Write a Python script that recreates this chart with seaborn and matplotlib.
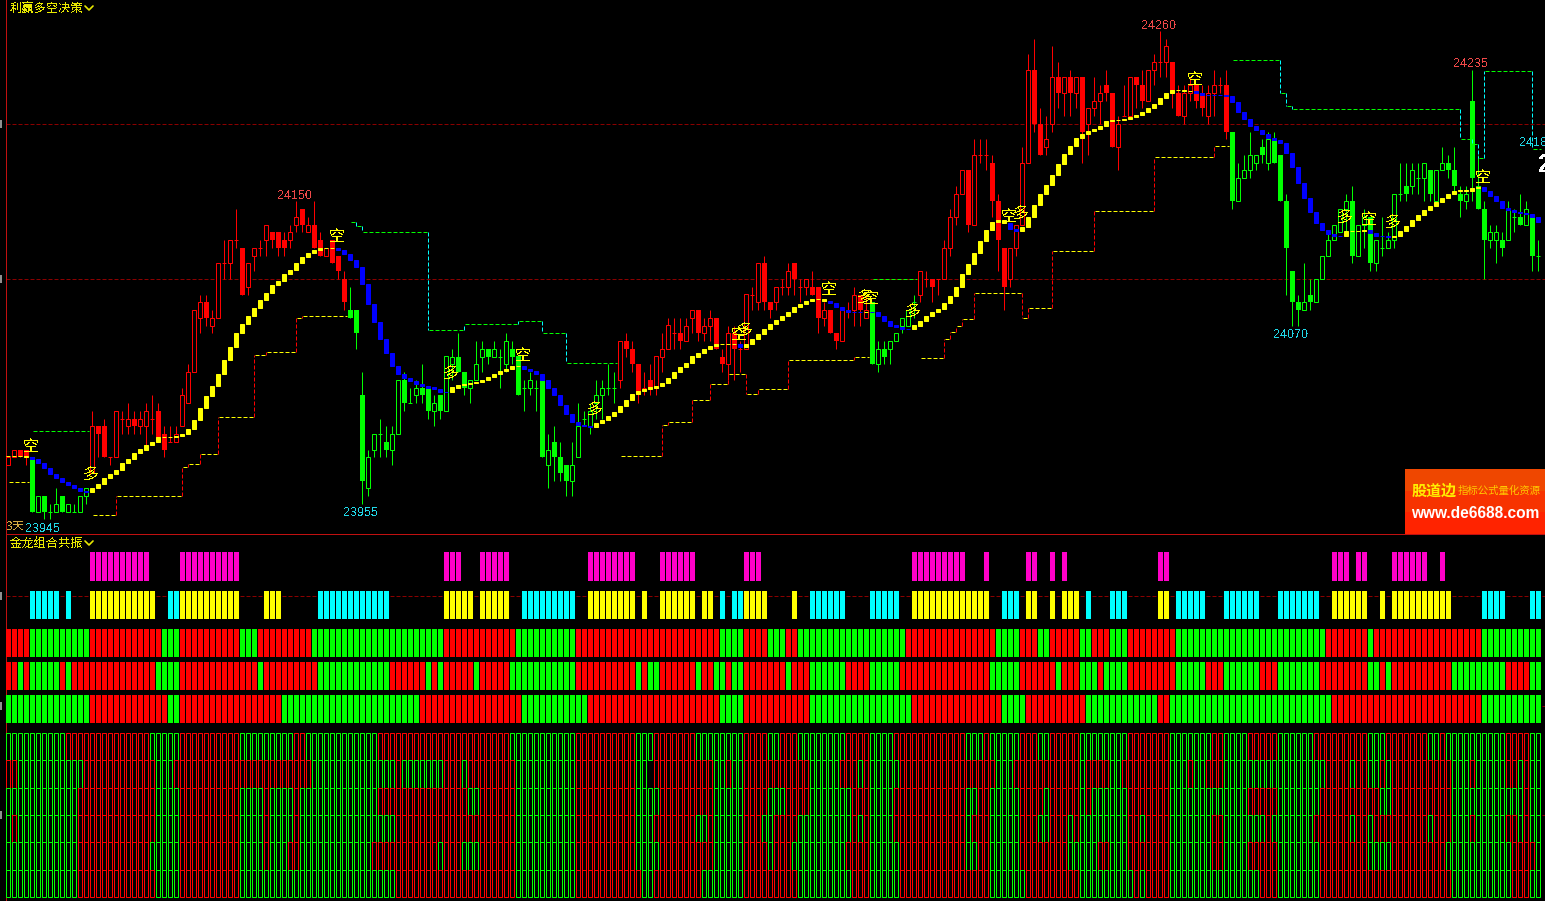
"""Two stacked stock-software panels: candles with trend ribbon, signal sticks below."""

import numpy as np
import matplotlib
matplotlib.use("Agg")
import matplotlib.pyplot as plt
from matplotlib.lines import Line2D
from matplotlib.transforms import Affine2D
import seaborn as sns

opens = [
    23980, 23985, 23990, 23990, 23985, 23950, 23960, 23950, 23950, 23960,
    23950, 23950, 23950, 23960, 23975, 24005, 24005, 23985, 23985, 24010,
    24005, 24010, 24005, 24005, 24010, 24015, 24000, 23995, 23995, 24005,
    24020, 24040, 24075, 24085, 24070, 24075, 24110, 24110, 24125, 24120,
    24095, 24115, 24120, 24125, 24130, 24130, 24125, 24125, 24135, 24145,
    24130, 24135, 24125, 24115, 24125, 24115, 24100, 24080, 24080, 24025,
    23965, 23990, 24000, 23995, 23990, 24000, 24035, 24020, 24025, 24030,
    24030, 24015, 24025, 24015, 24045, 24050, 24040, 24030, 24035, 24050,
    24055, 24050, 24050, 24045, 24055, 24050, 24030, 24030, 24030, 24035,
    23980, 23995, 23985, 23980, 23970, 23985, 24010, 24005, 24020, 24025,
    24030, 24030, 24035, 24060, 24055, 24045, 24030, 24035, 24030, 24050,
    24055, 24065, 24065, 24060, 24075, 24080, 24065, 24070, 24075, 24050,
    24045, 24065, 24055, 24055, 24090, 24085, 24110, 24085, 24085, 24095,
    24095, 24110, 24095, 24095, 24095, 24095, 24075, 24080, 24065, 24060,
    24080, 24080, 24090, 24075, 24085, 24045, 24055, 24055, 24060, 24070,
    24070, 24085, 24090, 24100, 24100, 24100, 24100, 24120, 24140, 24155,
    24170, 24135, 24180, 24180, 24175, 24150, 24120, 24100, 24120, 24135,
    24175, 24235, 24200, 24185, 24200, 24230, 24220, 24230, 24220, 24230,
    24200, 24210, 24215, 24225, 24220, 24185, 24205, 24205, 24230, 24225,
    24215, 24235, 24240, 24240, 24240, 24220, 24205, 24220, 24225, 24220,
    24205, 24220, 24225, 24225, 24195, 24150, 24165, 24170, 24175, 24185,
    24175, 24190, 24180, 24150, 24105, 24085, 24080, 24090, 24085, 24100,
    24115, 24125, 24130, 24145, 24150, 24115, 24135, 24140, 24110, 24120,
    24120, 24125, 24155, 24160, 24160, 24165, 24165, 24170, 24150, 24170,
    24175, 24170, 24155, 24150, 24215, 24160, 24145, 24125, 24125, 24125,
    24125, 24140, 24140, 24135, 24140, 24115,
]
closes = [
    23985, 23990, 23985, 23985, 23950, 23960, 23950, 23950, 23955, 23950,
    23955, 23950, 23960, 23965, 24005, 24000, 23985, 23985, 24015, 24010,
    24010, 24005, 24010, 24015, 24010, 23995, 23990, 23995, 24000, 24025,
    24040, 24080, 24085, 24075, 24075, 24110, 24110, 24125, 24125, 24090,
    24110, 24120, 24120, 24135, 24125, 24120, 24120, 24130, 24140, 24135,
    24135, 24120, 24115, 24120, 24110, 24105, 24085, 24075, 24065, 23970,
    23985, 24000, 24000, 23990, 24000, 24035, 24020, 24020, 24030, 24025,
    24015, 24020, 24015, 24050, 24050, 24040, 24030, 24035, 24045, 24055,
    24050, 24055, 24050, 24060, 24050, 24025, 24030, 24035, 24030, 23985,
    23990, 23985, 23975, 23970, 23980, 24005, 24010, 24015, 24025, 24030,
    24030, 24030, 24060, 24055, 24045, 24025, 24030, 24030, 24050, 24055,
    24070, 24065, 24060, 24070, 24080, 24065, 24070, 24075, 24055, 24045,
    24065, 24055, 24055, 24090, 24090, 24110, 24085, 24080, 24095, 24095,
    24105, 24100, 24095, 24100, 24090, 24075, 24080, 24065, 24060, 24080,
    24080, 24090, 24080, 24080, 24045, 24055, 24050, 24060, 24065, 24075,
    24080, 24085, 24105, 24100, 24095, 24100, 24120, 24140, 24155, 24170,
    24135, 24180, 24180, 24180, 24150, 24125, 24095, 24120, 24135, 24175,
    24235, 24200, 24180, 24190, 24230, 24220, 24230, 24220, 24230, 24195,
    24210, 24215, 24220, 24220, 24185, 24200, 24205, 24230, 24225, 24215,
    24235, 24240, 24240, 24250, 24220, 24205, 24220, 24225, 24215, 24210,
    24220, 24225, 24225, 24195, 24150, 24165, 24170, 24180, 24180, 24180,
    24190, 24175, 24150, 24120, 24085, 24080, 24085, 24085, 24100, 24115,
    24125, 24135, 24145, 24150, 24115, 24135, 24140, 24110, 24125, 24120,
    24125, 24155, 24155, 24155, 24170, 24165, 24175, 24155, 24170, 24175,
    24170, 24160, 24150, 24155, 24165, 24145, 24125, 24130, 24130, 24120,
    24145, 24140, 24135, 24145, 24115, 24115,
]
highs = [
    23985, 23990, 23990, 23990, 23985, 23960, 23960, 23955, 23965, 23960,
    23955, 23955, 23960, 23965, 24015, 24005, 24010, 23985, 24015, 24015,
    24020, 24015, 24015, 24020, 24025, 24020, 24005, 24005, 24005, 24030,
    24045, 24080, 24090, 24090, 24080, 24110, 24125, 24125, 24145, 24120,
    24110, 24120, 24125, 24135, 24130, 24130, 24130, 24135, 24150, 24145,
    24140, 24150, 24130, 24120, 24125, 24115, 24105, 24095, 24080, 24040,
    23990, 24000, 24010, 24005, 24005, 24035, 24040, 24030, 24035, 24045,
    24030, 24025, 24025, 24050, 24055, 24065, 24040, 24035, 24060, 24060,
    24055, 24060, 24055, 24065, 24060, 24050, 24035, 24040, 24035, 24035,
    24000, 24005, 23995, 23980, 23995, 24020, 24015, 24020, 24035, 24035,
    24045, 24040, 24060, 24065, 24060, 24045, 24040, 24045, 24050, 24065,
    24075, 24075, 24075, 24075, 24080, 24080, 24075, 24080, 24075, 24055,
    24070, 24070, 24060, 24090, 24095, 24110, 24115, 24085, 24095, 24100,
    24110, 24110, 24100, 24100, 24105, 24095, 24085, 24080, 24065, 24080,
    24085, 24095, 24090, 24090, 24085, 24060, 24060, 24060, 24065, 24075,
    24080, 24090, 24105, 24105, 24100, 24100, 24125, 24145, 24160, 24170,
    24170, 24190, 24190, 24190, 24180, 24155, 24120, 24120, 24135, 24185,
    24245, 24255, 24210, 24205, 24250, 24240, 24230, 24235, 24230, 24230,
    24210, 24230, 24225, 24235, 24220, 24205, 24225, 24230, 24230, 24235,
    24235, 24245, 24260, 24255, 24240, 24225, 24225, 24230, 24225, 24225,
    24225, 24235, 24230, 24235, 24195, 24175, 24180, 24195, 24180, 24190,
    24195, 24195, 24180, 24155, 24105, 24090, 24110, 24100, 24100, 24115,
    24130, 24135, 24145, 24155, 24160, 24135, 24145, 24140, 24125, 24140,
    24130, 24155, 24175, 24175, 24175, 24175, 24175, 24170, 24170, 24185,
    24180, 24185, 24160, 24160, 24235, 24180, 24150, 24135, 24135, 24130,
    24150, 24145, 24155, 24150, 24140, 24125,
]
lows = [
    23980, 23985, 23985, 23980, 23950, 23950, 23945, 23945, 23950, 23950,
    23950, 23950, 23950, 23955, 23975, 23985, 23985, 23980, 23985, 24000,
    24000, 24000, 24000, 23990, 24000, 23995, 23985, 23995, 23995, 24005,
    24020, 24040, 24065, 24070, 24065, 24075, 24100, 24100, 24120, 24090,
    24090, 24105, 24115, 24115, 24120, 24115, 24115, 24120, 24130, 24130,
    24130, 24120, 24115, 24115, 24110, 24100, 24080, 24075, 24055, 23955,
    23960, 23985, 23985, 23985, 23980, 24000, 24015, 24020, 24020, 24020,
    24010, 24005, 24010, 24015, 24035, 24040, 24025, 24020, 24035, 24040,
    24045, 24050, 24030, 24040, 24045, 24025, 24015, 24025, 24015, 23985,
    23965, 23970, 23970, 23960, 23960, 23985, 24005, 24000, 24010, 24010,
    24025, 24020, 24030, 24050, 24040, 24020, 24025, 24025, 24025, 24040,
    24055, 24055, 24055, 24060, 24065, 24060, 24060, 24060, 24055, 24040,
    24035, 24035, 24040, 24055, 24080, 24080, 24080, 24075, 24080, 24090,
    24090, 24090, 24085, 24090, 24090, 24065, 24070, 24065, 24055, 24060,
    24075, 24070, 24070, 24075, 24045, 24040, 24045, 24045, 24060, 24065,
    24070, 24075, 24085, 24095, 24085, 24090, 24100, 24115, 24135, 24155,
    24130, 24135, 24175, 24170, 24140, 24105, 24080, 24095, 24115, 24135,
    24175, 24195, 24180, 24180, 24195, 24210, 24205, 24205, 24210, 24175,
    24180, 24205, 24200, 24215, 24185, 24170, 24205, 24205, 24210, 24210,
    24215, 24225, 24230, 24230, 24210, 24205, 24200, 24215, 24210, 24205,
    24200, 24205, 24220, 24190, 24145, 24150, 24165, 24165, 24170, 24175,
    24170, 24175, 24150, 24090, 24070, 24070, 24080, 24080, 24085, 24100,
    24115, 24125, 24130, 24130, 24110, 24115, 24120, 24105, 24105, 24115,
    24120, 24120, 24150, 24150, 24155, 24155, 24150, 24150, 24150, 24170,
    24165, 24155, 24140, 24145, 24150, 24145, 24100, 24120, 24110, 24115,
    24125, 24130, 24135, 24135, 24105, 24105,
]
trend_line = [
    23985.5, 23985.7, 23986, 23985, 23983.7, 23981, 23978, 23974, 23971.7, 23969,
    23967, 23965, 23963, 23962.7, 23965, 23968, 23971.7, 23974, 23977, 23981,
    23984, 23988, 23990, 23993, 23995, 23998, 23998, 23998, 23999, 24000,
    24003, 24009, 24017, 24024.6, 24031, 24039, 24048, 24056, 24065, 24071,
    24076, 24081, 24086.5, 24091, 24096, 24099, 24103, 24106, 24110, 24114,
    24117, 24119, 24120, 24120, 24120, 24119, 24116, 24112, 24108, 24097,
    24084, 24072, 24061, 24052, 24044, 24039, 24036, 24034, 24032, 24031,
    24030, 24029, 24027, 24027, 24030, 24031.6, 24032, 24033, 24033.5, 24035,
    24037, 24039, 24040.6, 24042, 24044, 24044, 24042, 24040.6, 24039, 24035,
    24030, 24025, 24019, 24013, 24008, 24006, 24005, 24004.7, 24007, 24009,
    24011.6, 24014, 24018, 24022, 24026, 24028, 24029, 24030, 24031, 24033,
    24036, 24040, 24043, 24046, 24050, 24052, 24055, 24057, 24058, 24058,
    24058, 24058, 24056, 24058, 24061, 24064.5, 24068, 24071, 24073.5, 24076,
    24079, 24082, 24084, 24086, 24087, 24087, 24086, 24084.5, 24082, 24080,
    24079, 24079, 24079, 24079, 24078.7, 24076, 24073, 24070, 24069, 24068,
    24068, 24070, 24073, 24076, 24078.7, 24080.6, 24084.5, 24089, 24095, 24103,
    24109.6, 24117, 24124.5, 24131.5, 24136.7, 24138, 24136, 24132, 24131, 24133.5,
    24140, 24148, 24155, 24160.6, 24167, 24174, 24180.6, 24186, 24191, 24193.5,
    24195.4, 24197, 24199, 24202, 24202.5, 24202.5, 24203, 24204.4, 24206, 24208,
    24210, 24213, 24217, 24220, 24222, 24222, 24221.4, 24221, 24220, 24219,
    24218.6, 24219, 24219, 24218, 24214, 24208, 24203, 24199, 24196, 24193.5,
    24191, 24189.6, 24187.5, 24181, 24172, 24162, 24152, 24143, 24136, 24131.5,
    24129, 24128, 24128, 24131, 24131, 24131, 24131.5, 24129.6, 24128, 24127.7,
    24127, 24128, 24131, 24134, 24138, 24141, 24144.5, 24147, 24149.6, 24152,
    24155, 24157, 24157.6, 24157, 24158.6, 24159.5, 24157, 24153.5, 24150, 24146,
    24144.5, 24143, 24142.5, 24142, 24140, 24137,
]

candle_runs = "R4 G10 R43 G45 R42 G8 R52 G52"
ribbon_runs = "Y4 B10 Y41 B19 Y12 B12 Y24 B1 Y14 B6 Y1 B7 Y16 B2 Y29 B25 Y4 B4 Y15 B10"

stop_counts = [4, 10, 4, 11, 1, 2, 3, 6, 2, 5, 1, 8, 1, 1, 11, 6, 9, 4, 4, 9,
               7, 1, 4, 3, 3, 3, 2, 5, 11, 3, 8, 4, 1, 1, 1, 2, 8, 1, 4, 7,
               10, 10, 3, 8, 1, 1, 28, 2, 1, 1, 8, 2]
stop_levels = [23969, 24002, 23948, 23960, 23979, 23980.5, 23987, 24011, 24051, 24053,
               24075, 24076, 24137, 24134, 24130, 24067, 24071, 24073, 24065, 24046,
               23985.6, 24006, 24007.5, 24022, 24032, 24038.5, 24026, 24029, 24048, 24050,
               24100, 24049, 24061, 24066, 24069.6, 24074, 24091, 24075, 24081, 24118,
               24143.6, 24179, 24186, 24241.6, 24220, 24211.5, 24209.4, 24190, 24187, 24178,
               24234, 24184]

extreme_bars = [6, 48, 59, 192, 214, 244]
extreme_vals = [23945, 24150, 23955, 24260, 24070, 24235]
extreme_side = ["low", "high", "low", "high", "low", "high"]

magenta_bars = [(14, 23), (29, 38), (73, 75), (79, 83), (97, 104), (109, 114), (123, 125),
                (151, 159), (163, 163), (170, 171), (174, 174), (176, 176), (192, 193),
                (221, 223), (225, 226), (231, 236), (239, 239)]
yellow_bars = [(14, 24), (29, 38), (43, 45), (73, 77), (79, 83), (97, 104), (106, 106),
               (109, 114), (116, 117), (123, 126), (131, 131), (151, 163), (170, 171),
               (174, 174), (176, 178), (192, 193), (221, 226), (229, 229), (231, 240)]
cyan_bars = [(4, 8), (10, 10), (27, 28), (52, 63), (86, 94), (119, 119), (121, 122),
             (134, 139), (144, 148), (166, 168), (180, 180), (184, 186), (195, 199),
             (203, 208), (212, 218), (246, 249), (254, 255)]

band_top = ("R4 G10 R12 G3 R10 G3 R9 G22 R12 G10 R24 G4 R4 G3 R2 G18 R15 G4 R3 G2 R5 G2 "
            "R3 G3 R8 G25 R7 G1 R18 G10")
band_mid = ("R2 G1 R1 G5 R1 G1 R14 G4 R13 G1 R9 G12 R6 G1 R1 G1 R5 G1 R5 G11 R10 G1 R1 G2 "
            "R6 G1 R2 G2 R1 G2 R7 G1 R3 G6 R4 G5 R15 G5 R6 G1 R3 G3 R1 G4 R8 G5 R3 G6 R3 "
            "G7 R8 G2 R1 G1 R10 G9 R4 G2")
band_low = "G14 R13 G2 R17 G23 R17 G11 R22 G4 R11 G17 R15 G4 R10 G12 R2 G27 R25 G10"

cell_rows = [
    ("G10 R14 G5 R10 G9 R2 G12 R22 G11 R10 G3 R7 G8 R4 G2 R3 G8 R4 G4 R12 G3 R1 G5 R3 "
     "G2 R5 G8 R7 G7 R2 G4 R5 G6 R9 G3 R7 G2 R1 G10 R4 G2"),
    ("R2 G11 R12 G3 R23 G14 R1 G7 R3 G1 R8 G10 R10 G2 N1 R10 G2 R1 G2 R11 G5 R3 G1 R1 "
     "G5 R16 G3 R11 G1 R4 G2 R8 G3 R1 G2 R3 G17 R4 G1 R2 G2 R1 G1 R10 G3 R1 G5 R2 G1 R1 G2"),
    ("G12 R13 G4 R10 G4 R1 G4 R1 G13 R15 G2 R6 G10 R10 G4 R9 G5 R4 G3 R4 G7 R3 G4 R12 "
     "G2 R2 G5 R4 G1 R5 G1 R1 G6 R7 G13 R5 G7 R10 G2 R10 G12 R1 G2"),
    ("G1 R1 G10 R13 G4 R10 G4 R1 G4 R1 G16 R20 G10 R10 G3 R7 G2 R1 G5 R3 G2 R4 G9 R1 G1 "
     "R1 G4 R12 G1 R3 G5 R3 G2 R3 G1 R1 G8 R2 G1 R4 G7 R2 G7 R1 G7 R6 G1 R2 G1 R9 G1 R3 "
     "G3 R1 G5 R2 G1 R1 G2"),
    ("G12 R12 G5 R10 G4 R1 G3 R2 G12 R11 G1 R3 G3 R6 G10 R10 G4 R9 G5 R4 G1 R3 G9 R4 G5 "
     "R11 G2 R2 G5 R8 G5 R2 G3 R7 G7 R2 G4 R5 G7 R8 G4 R9 G11 R4 G1"),
    ("G12 R13 G4 R10 G26 R20 G10 R11 G2 R8 G7 R9 G9 R3 G5 R15 G6 R9 G9 R1 G1 R4 G15 R3 "
     "G7 R22 G10 R3 G2"),
]

W, H = 1545, 901
PX = 0.72  # one pixel in points at dpi 100
BAR_W = 5 / 6
HOLLOW_W = 4 / 6
FIRST_BAR_PX = 8.0  # lines snap up a pixel, so bar 0 sits half a pixel left of its centre
FILL_SHIFT = 1 / 12  # filled bars snap differently, nudge them back onto whole pixels

COLORS = {"R": "#ff0000", "G": "#00ff00", "Y": "#ffff00", "B": "#0000ff"}
GRID_RED = "#8a0000"
FRAME_RED = "#c01010"
TITLE_YELLOW = "#e8e800"
DASH = (0, (4, 2))


def expand_runs(text):
    out = []
    for part in text.split():
        out.extend([part[0]] * int(part[1:]))
    return out


def draw_candles(ax):
    xs = np.arange(len(opens))
    colors = [COLORS[c] for c in expand_runs(candle_runs)]
    ax.vlines(xs, lows, highs, colors=colors, lw=PX, zorder=2)
    for i, (o, c) in enumerate(zip(opens, closes)):
        if o == c:
            ax.hlines(o, i - 0.33, i + 0.33, colors=colors[i], lw=PX, zorder=3)
        elif c > o:
            ax.bar(i, c - o, bottom=o, width=HOLLOW_W, facecolor="black", edgecolor=colors[i],
                   linewidth=PX, zorder=3)
        else:
            ax.bar(i + FILL_SHIFT, o - c, bottom=c, width=BAR_W, color=colors[i], linewidth=0,
                   zorder=3)


def draw_ribbon(ax):
    kinds = expand_runs(ribbon_runs)
    for i, kind in enumerate(kinds):
        a = trend_line[max(i - 1, 0)]
        b = trend_line[i]
        ax.bar(i, abs(b - a), bottom=min(a, b), width=BAR_W - 1 / 6, color=COLORS[kind],
               edgecolor=COLORS[kind], linewidth=PX, zorder=5)
    # signal characters sit at the first bar of each ribbon run
    start = 0
    for part in ribbon_runs.split():
        if start > 0:
            label = "空" if part[0] == "B" else "多"
            ax.annotate(label, (start, trend_line[start]), xytext=(-1, 9.5),
                        textcoords="offset points", ha="center", va="center",
                        color="#ffff00", fontsize=11.5, zorder=7)
        start += int(part[1:])


def draw_stops(ax):
    levels = np.repeat(stop_levels, stop_counts)
    regime = expand_runs(candle_runs)
    start = 0
    for n, lv in zip(stop_counts, stop_levels):
        end = start + n
        color = "#ffff00" if regime[start] == "R" else "#00ff00"
        stop_x = end if end < len(levels) and regime[end] == regime[start] else end - 0.5
        sns.lineplot(x=[start + 0.15, stop_x], y=[lv, lv], color=color, lw=PX, linestyle=DASH,
                     estimator=None, sort=False, legend=False, ax=ax, zorder=4)
        if start > 0 and regime[start] == regime[start - 1]:
            vcolor = "#ff0000" if regime[start] == "R" else "#00ffff"
            ax.plot([start, start], [levels[start - 1], lv], color=vcolor, lw=PX, linestyle=DASH,
                    zorder=4)
        start = end


def stick_row(ax, ranges, color, top, bottom):
    for a, b in ranges:
        xs = np.arange(a, b + 1) + FILL_SHIFT
        ax.bar(xs, top - bottom, bottom=bottom, width=BAR_W, color=color, linewidth=0, zorder=3)


def band_row(ax, runs, top, bottom):
    kinds = expand_runs(runs)
    xs = np.arange(len(kinds)) + FILL_SHIFT
    ax.bar(xs, top - bottom, bottom=bottom, width=BAR_W, color=[COLORS[k] for k in kinds],
           linewidth=0, zorder=3)


def cell_row(ax, runs, top, bottom):
    for i, kind in enumerate(expand_runs(runs)):
        if kind == "N":
            continue
        ax.bar(i, top - bottom, bottom=bottom, width=HOLLOW_W, fill=False, edgecolor=COLORS[kind],
               linewidth=PX, zorder=3)


sns.set_theme(style="dark", rc={
    "figure.facecolor": "black",
    "axes.facecolor": "black",
    "savefig.facecolor": "black",
    "axes.grid": False,
    "lines.dash_capstyle": "butt",
})
plt.rcParams["font.family"] = ["Noto Sans CJK SC", "DejaVu Sans"]
plt.rcParams["text.antialiased"] = False

fig = plt.figure(figsize=(W / 100, H / 100), dpi=100)
to_fig = Affine2D().scale(1 / W, -1 / H).translate(0, 1) + fig.transFigure

ax = fig.add_axes([5.5 / W, (H - 534) / H, (W - 5.5) / W, 534 / H])
low_ax = fig.add_axes([5.5 / W, 0, (W - 5.5) / W, (H - 535) / H])

xlim = ((5.5 - FIRST_BAR_PX) / 6, (W - FIRST_BAR_PX) / 6)
for a in (ax, low_ax):
    a.set_xlim(*xlim)
    a.set_xticks([])
    for side in ("top", "right", "bottom"):
        a.spines[side].set_visible(False)
    a.spines["left"].set_color(FRAME_RED)
    a.spines["left"].set_linewidth(PX)
ax.spines["bottom"].set_visible(True)
ax.spines["bottom"].set_color(FRAME_RED)
ax.spines["bottom"].set_linewidth(PX)

ax.set_ylim(24200 - 410 / 1.55, 24200 + 124 / 1.55)
low_ax.set_ylim((815 - 901) / 2.19, (815 - 535) / 2.19)

main_grid = [24100, 24200]
low_grid = [0, 50, 100]
for a, levels in ((ax, main_grid), (low_ax, low_grid)):
    a.set_yticks(levels)
    a.set_yticklabels([])
    a.tick_params(axis="y", length=0)
    for lv in levels:
        a.axhline(lv, color=GRID_RED, lw=PX, linestyle=DASH, zorder=1)
        a.plot(-0.0026, lv, marker="|", ms=8 * PX, mew=2 * PX, color="#909090", clip_on=False,
               transform=a.get_yaxis_transform())

draw_candles(ax)
draw_stops(ax)
draw_ribbon(ax)

# high / low price tags
for i, v, side in zip(extreme_bars, extreme_vals, extreme_side):
    up = side == "high"
    ax.annotate(str(v), (i, v), xytext=(-1, 3.8 if up else -6.8), textcoords="offset points",
                ha="center", va="center", fontsize=9, family="Liberation Sans",
                color="#f04848" if up else "#20d8e8", zorder=7)

stick_row(low_ax, magenta_bars, "#ff00c8", 120, 107)
stick_row(low_ax, yellow_bars, "#ffff00", 102.3, 89.5)
stick_row(low_ax, cyan_bars, "#00ffff", 102.3, 89.5)
band_row(low_ax, band_top, 85, 72)
band_row(low_ax, band_mid, 70, 57)
band_row(low_ax, band_low, 55, 42)
cell_tops = [37.5, 25, 12.5, 0, -12.5, -25]
for row, top in zip(cell_rows, cell_tops):
    cell_row(low_ax, row, top, top - 12.5)

# panel captions
fig.text(10 / W, 1 - 8.5 / H, "利赢多空决策", color=TITLE_YELLOW, fontsize=8.8, va="center")
fig.text(10 / W, 1 - 543.5 / H, "金龙组合共振", color=TITLE_YELLOW, fontsize=8.8, va="center")
for cy in (8, 543):
    fig.add_artist(Line2D([85, 89, 93], [cy - 2, cy + 2, cy - 2], color=TITLE_YELLOW, lw=1.2,
                          transform=to_fig))

fig.text(6 / W, 1 - 526 / H, "3天", color="#d0a840", fontsize=8.8, va="center")
fig.text(1519 / W, 1 - 143 / H, "2418", color="#20d8e8", fontsize=9, va="center",
         family="Liberation Sans")
fig.text(1538 / W, 1 - 165 / H, "2", color="white", fontsize=18, va="center", fontweight="bold",
         family="Liberation Sans")

# site stamp, bottom right of the price panel
stamp = fig.add_axes([1405 / W, (H - 534) / H, 140 / W, 65 / H])
stamp.imshow(np.array([[[0.94, 0.28, 0.0]], [[0.97, 0.2, 0.0]], [[1.0, 0.14, 0.0]]]), aspect="auto")
stamp.set_axis_off()
plt.rcParams["text.antialiased"] = True
fig.text(1412 / W, 1 - 491 / H, "股道边", color="#ffee00", fontsize=10.8, fontweight="bold", va="center")
fig.text(1458 / W, 1 - 491 / H, "指标公式量化资源", color="#ffc800", fontsize=7.5, va="center")
fig.text(1411 / W, 1 - 514 / H, "www.de6688.com", color="#ffffff", fontsize=11.2, fontweight="bold",
         va="center", family="Liberation Sans")

fig.savefig("out.png", dpi=100, facecolor="black")
